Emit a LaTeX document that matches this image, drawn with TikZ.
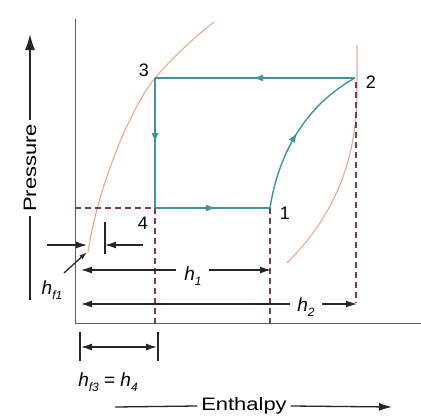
\documentclass[tikz,border=0pt]{standalone}
\usepackage{fontspec}
\setmainfont{Liberation Sans}
\usetikzlibrary{arrows.meta,decorations.markings}
\definecolor{proc}{HTML}{3F93A2}
\definecolor{satc}{HTML}{E9A98E}
\definecolor{dshc}{HTML}{7A3A55}
\definecolor{axc}{HTML}{5A5A5A}
\newcommand{\hlab}[1]{{\itshape h}\raisebox{-0.45ex}{\fontsize{12}{12}\selectfont\itshape #1}}
\newcommand{\widetxt}[1]{\scalebox{1.22}[1]{#1}}
\begin{document}
\begin{tikzpicture}[x=1pt,y=-1pt,
  font=\fontsize{18}{18}\selectfont,
  procline/.style={draw=proc,line width=1.4pt},
  midarrow/.style={postaction={decorate},decoration={markings,
     mark=at position #1 with {\arrow{Latex[length=10pt,width=7pt]}}}},
  satline/.style={draw=satc,line width=1.1pt},
  dashline/.style={draw=dshc,line width=1.1pt,dash pattern=on 6pt off 4pt},
  dimline/.style={draw=black!85,line width=1.3pt},
  dimarrow/.style={dimline,-{Latex[length=11pt,width=7pt]}},
  tickline/.style={draw=black!85,line width=1.3pt},
  axisline/.style={draw=axc,line width=0.9pt},
  ptlabel/.style={inner sep=1pt,font=\fontsize{18}{18}\selectfont},
  hlabel/.style={inner sep=1pt,font=\fontsize{19}{19}\selectfont},
  axtitle/.style={inner sep=4pt,font=\fontsize{18}{18}\selectfont}]
\useasboundingbox (0,0) rectangle (421,418);
% points
\coordinate (p1) at (270,208);
\coordinate (p2) at (355,78);
\coordinate (p3) at (155,78);
\coordinate (p4) at (155,208);
\coordinate (o) at (75,323);
\coordinate (ytop) at (75,19);
\coordinate (xend) at (421,323);
% axes
\draw[axisline] (ytop) -- (o) -- (xend);
% saturation curves
\coordinate (s0) at (88,252);
\coordinate (s1) at (214,22);
\draw[satline] (s0) .. controls (97,190) and (130,108) .. (p3) .. controls (175,55) and (195,37) .. (s1);
\coordinate (r0) at (357,45);
\coordinate (r1) at (357,95);
\coordinate (r2) at (287,263);
\draw[satline] (r0) -- (r1) .. controls (356,170) and (328,222) .. (r2);
% dashed guides
\coordinate (d4a) at (75,208);
\coordinate (d4b) at (155,323);
\coordinate (d1b) at (270,323);
\coordinate (d2b) at (356,303);
\coordinate (d2a) at (356,82);
\draw[dashline] (d4a) -- (p4);
\draw[dashline] (p4) -- (d4b);
\draw[dashline] (p1) -- (d1b);
\draw[dashline] (d2a) -- (d2b);
% process lines
\draw[procline,midarrow=0.51] (p2) -- (p3);
\draw[procline,midarrow=0.5] (p3) -- (p4);
\draw[procline,midarrow=0.53] (p4) -- (p1);
\draw[procline,midarrow=0.5] (p1) .. controls (279,150) and (308,104) .. (p2);
% point labels
\node[ptlabel] (l3) at (144,70) {3};
\node[ptlabel] (l2) at (371,82) {2};
\node[ptlabel] (l4) at (143,223) {4};
\node[ptlabel] (l1) at (285,213) {1};
% h_f1
\coordinate (f1a) at (47,245);
\coordinate (f1b) at (87,245);
\coordinate (f1c) at (143,245);
\coordinate (f1d) at (105,245);
\coordinate (t1a) at (105,222);
\coordinate (t1b) at (105,254);
\draw[dimarrow] (f1a) -- (f1b);
\draw[tickline] (t1a) -- (t1b);
\draw[dimarrow] (f1c) -- (f1d);
\node[hlabel] (hf1) at (52,290) {\hlab{f1}};
\coordinate (lead) at (87,252);
\draw[dimline,-{Latex[length=8pt,width=5pt]}] (64,273) -- (lead);
% h_1
\node[hlabel] (h1) at (193,276) {\hlab{1}};
\coordinate (h1l) at (81,270);
\coordinate (h1r) at (271,270);
\draw[dimarrow] (176,270) -- (h1l);
\draw[dimarrow] (209,270) -- (h1r);
% h_2
\node[hlabel] (h2) at (306,307) {\hlab{2}};
\coordinate (h2l) at (81,304);
\coordinate (h2r) at (357,304);
\draw[dimarrow] (290,304) -- (h2l);
\draw[dimarrow] (322,304) -- (h2r);
% h_f3 = h_4
\coordinate (t3a) at (80,332);
\coordinate (t3b) at (80,361);
\coordinate (t4a) at (158,332);
\coordinate (t4b) at (158,361);
\draw[tickline] (t3a) -- (t3b);
\draw[tickline] (t4a) -- (t4b);
\draw[dimline,{Latex[length=11pt,width=7pt]}-{Latex[length=11pt,width=7pt]}] (81,347) -- (157,347);
\node[hlabel] (hf3) at (108,382) {\hlab{f3} = \hlab{4}};
% axis titles
\node[axtitle] (enth) at (244,406) {\widetxt{Enthalpy}};
\coordinate (e0) at (115,407);
\coordinate (e1) at (392,407);
\draw[dimline] (e0) -- (enth.west);
\draw[dimline,-{Latex[length=13pt,width=8pt]}] (enth.east) -- (e1);
\node[axtitle,rotate=90] (pres) at (30,168) {\widetxt{Pressure}};
\coordinate (pt) at (30,34);
\coordinate (pb) at (30,300);
\draw[dimline,-{Latex[length=16pt,width=10pt]}] (pres.east) -- (pt);
\draw[dimline] (pres.west) -- (pb);
\end{tikzpicture}
\end{document}
